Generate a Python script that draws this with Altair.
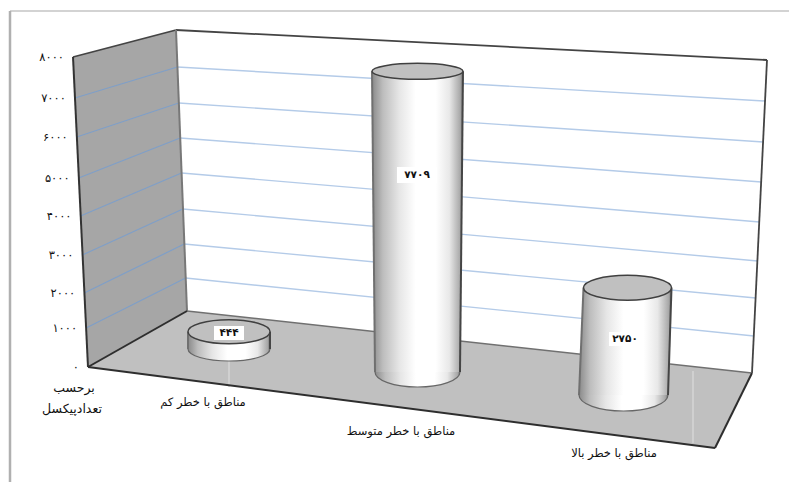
import altair as alt
import pandas as pd

# ---- chart values ----
categories = ["مناطق با خطر کم", "مناطق با خطر متوسط", "مناطق با خطر بالا"]
values = [444, 7709, 2750]
value_labels = ["۴۴۴", "۷۷۰۹", "۲۷۵۰"]
ticks = [0, 1000, 2000, 3000, 4000, 5000, 6000, 7000, 8000]
tick_labels = ["۰", "۱۰۰۰", "۲۰۰۰", "۳۰۰۰", "۴۰۰۰", "۵۰۰۰", "۶۰۰۰", "۷۰۰۰", "۸۰۰۰"]
axis_title = ["برحسب", "تعدادپیکسل"]

# ---- 3-D scene layout (page pixels) ----
W0, W1, H0, H1 = 8, 789, 8, 482
A, B = (88, 367), (187, 311)      # floor front-left, back-left
C, D = (752, 373), (715, 448)     # floor back-right, front-right
A_top, B_top, C_top = (73, 57), (176, 30), (767, 60)
wall_left_y = [367, 328, 293, 255, 216, 178, 137, 98, 57]
wall_mid_y = [311, 278, 244, 209, 173, 138, 103, 67, 30]
wall_right_y = [373, 336, 298, 261, 222, 182, 142, 101, 60]
px_per_unit = 0.039
# base centre x, base centre y, base rx, base ry, top centre x, top rx, top ry
cyl = [
    (229, 349, 41, 12, 229, 41, 12),
    (417.5, 372, 42.5, 15, 417.5, 45.5, 8),
    (623.5, 395, 44.5, 16, 627.5, 44, 12.5),
]
label_pos = [(229, 333, 15, 7), (417, 175, 20, 8), (625, 339, 16, 7)]
cat_pos = [(203, 403), (401, 432), (614, 454)]


def xs(**kw):
    return alt.X(kw.pop("field"), type="quantitative", axis=None,
                 scale=alt.Scale(domain=[W0, W1], nice=False, zero=False))


def ys(**kw):
    return alt.Y(kw.pop("field"), type="quantitative", axis=None,
                 scale=alt.Scale(domain=[H1, H0], nice=False, zero=False))


def segs(rows, color, width, dash=None):
    df = pd.DataFrame(rows, columns=["x", "y", "x2", "y2"])
    kw = {"strokeDash": dash} if dash else {}
    return alt.Chart(df).mark_rule(color=color, strokeWidth=width, **kw).encode(
        x=xs(field="x"), y=ys(field="y"), x2="x2:Q", y2="y2:Q")


def polygon(pts, color):
    """Convex polygon drawn as a vertical area between its two envelopes."""
    n = len(pts)
    edges = [(pts[i], pts[(i + 1) % n]) for i in range(n)]
    rows = []
    for x in sorted({p[0] for p in pts}):
        hit = []
        for (a, b) in edges:
            lo, hi = sorted((a[0], b[0]))
            if lo <= x <= hi and a[0] != b[0]:
                hit.append(a[1] + (b[1] - a[1]) * (x - a[0]) / (b[0] - a[0]))
        rows.append({"x": x, "y": min(hit), "y2": max(hit)})
    return alt.Chart(pd.DataFrame(rows)).mark_area(color=color, opacity=1).encode(
        x=xs(field="x"), y=ys(field="y"), y2="y2:Q")


def ellipse(cx, cy, rx, ry, fill, stroke, sw):
    ratio = round(ry / rx, 4)
    path = f"M-1,0A1,{ratio},0,1,1,1,0A1,{ratio},0,1,1,-1,0Z"
    df = pd.DataFrame({"x": [cx], "y": [cy]})
    return alt.Chart(df).mark_point(
        shape=path, size=(2 * rx) ** 2, filled=True, fill=fill, stroke=stroke,
        strokeWidth=sw, opacity=1).encode(x=xs(field="x"), y=ys(field="y"))


def text(rows, size, align="center", color="#111111", weight="normal"):
    df = pd.DataFrame(rows, columns=["x", "y", "t"])
    return alt.Chart(df).mark_text(
        font="DejaVu Sans", fontSize=size, align=align, baseline="middle",
        color=color, fontWeight=weight).encode(
        x=xs(field="x"), y=ys(field="y"), text="t:N")


side = alt.LinearGradient(
    gradient="linear", x1=0, x2=1, y1=0, y2=0,
    stops=[
        alt.GradientStop(color="#8a8a8a", offset=0),
        alt.GradientStop(color="#bdbdbd", offset=0.12),
        alt.GradientStop(color="#e6e6e6", offset=0.3),
        alt.GradientStop(color="#ffffff", offset=0.48),
        alt.GradientStop(color="#ffffff", offset=0.7),
        alt.GradientStop(color="#e8e8e8", offset=0.85),
        alt.GradientStop(color="#a8a8a8", offset=0.97),
        alt.GradientStop(color="#707070", offset=1),
    ])

layers = []
# page frame
layers.append(segs([(10, 11, W1, 11)], "#c4c4c4", 1.5))
layers.append(segs([(10, 11, 10, 482)], "#b0b0b0", 2.5))
# walls and floor
layers.append(polygon([A_top, B_top, B, A], "#a6a6a6"))
layers.append(polygon([A, B, C, D], "#c0c0c0"))
# grid lines
n = len(ticks) - 1
grid_left, grid_back = [], []
for i in range(1, n):
    f = ticks[i] / ticks[-1]
    lx = A[0] + (A_top[0] - A[0]) * f
    mx = B[0] + (B_top[0] - B[0]) * f
    rx = C[0] + (C_top[0] - C[0]) * f
    grid_left.append((lx, wall_left_y[i], mx, wall_mid_y[i]))
    grid_back.append((mx, wall_mid_y[i], rx, wall_right_y[i]))
layers.append(segs(grid_left, "#7f9fc8", 1.2))
layers.append(segs(grid_back, "#b4cbe8", 1.4))
# pale floor streaks
layers.append(segs([(229, 358, 229, 387), (693, 371, 693, 443)], "#d6d6d6", 1.5))
# edges
layers.append(segs([A_top + B_top, B_top + C_top, C_top + C], "#444444", 1.8))
layers.append(segs([A_top + A], "#333333", 2))
layers.append(segs([B_top + B], "#787878", 2))
layers.append(segs([B + C], "#707070", 1.5))
layers.append(segs([A + B, A + D, D + C], "#2e2e2e", 2))

# cylinders
for v, (bx, by, brx, bry, tx, trx, tr_y) in zip(values, cyl):
    ty = by - v * px_per_unit
    layers.append(ellipse(bx, by, brx, bry, side, "#666666", 1.2))
    body = pd.DataFrame({"y": [ty, by],
                         "x": [tx - trx, bx - brx],
                         "x2": [tx + trx, bx + brx]})
    layers.append(alt.Chart(body).mark_area(orient="horizontal", color=side, opacity=1).encode(
        y=ys(field="y"), x=xs(field="x"), x2="x2:Q"))
    layers.append(segs([(tx - trx, ty, bx - brx, by)], "#707070", 2))
    layers.append(segs([(tx + trx, ty, bx + brx, by)], "#454545", 2))
    layers.append(ellipse(tx, ty, trx, tr_y, "#c0c0c0", "#404040", 1.5))

# data labels
boxes = pd.DataFrame([(x - w, y - h, x + w, y + h) for x, y, w, h in label_pos],
                     columns=["x", "y", "x2", "y2"])
layers.append(alt.Chart(boxes).mark_rect(color="white", opacity=1).encode(
    x=xs(field="x"), y=ys(field="y"), x2="x2:Q", y2="y2:Q"))
layers.append(text([(p[0], p[1], t) for p, t in zip(label_pos, value_labels)], 10.5, weight="bold"))

# axis labels
tick_rows = []
for i, (t, lab) in enumerate(zip(ticks, tick_labels)):
    f = t / ticks[-1]
    lx = A[0] + (A_top[0] - A[0]) * f
    tick_rows.append((lx - 9, wall_left_y[i] + 1, lab))
layers.append(text(tick_rows, 11.5, align="right"))
layers.append(text([(74, 388, axis_title[0]), (72, 409, axis_title[1])], 12.5))
layers.append(text([(p[0], p[1], c) for p, c in zip(cat_pos, categories)], 11.5))

chart = alt.layer(*layers).properties(
    width=W1 - W0, height=H1 - H0, padding=0,
    autosize=alt.AutoSizeParams(type="none"), background="white",
).configure_view(stroke=None)

chart.save("out.html", embed_options={"renderer": "svg", "actions": False})
